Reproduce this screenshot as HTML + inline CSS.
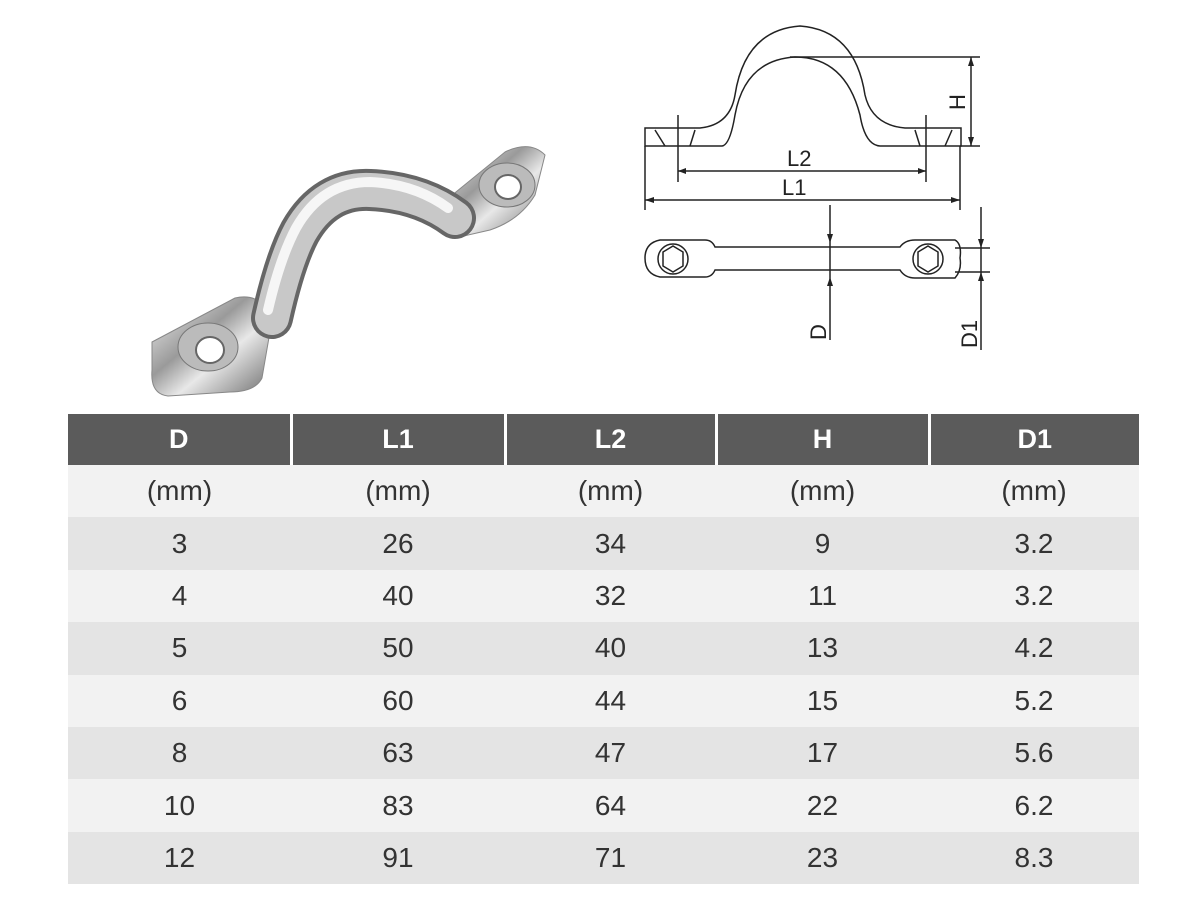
<!DOCTYPE html>
<html><head><style>
body{margin:0;width:1200px;height:900px;background:#fff;position:relative;overflow:hidden;font-family:"Liberation Sans",sans-serif}
table{position:absolute;left:68px;top:414px;width:1071px;border-collapse:collapse;table-layout:fixed}
td,th{text-align:center;padding:0;font-size:28px;color:#333;font-weight:normal}
th{background:#5b5b5b;color:#fff;height:51px;border-left:3px solid #fff;border-right:3px solid #fff;font-weight:bold;font-size:27px}
th:first-child{border-left:none}th:last-child{border-right:none}
td{height:52.4px}
tr:nth-child(even) td{background:#f2f2f2}
tr:nth-child(odd) td{background:#e4e4e4}
</style></head><body>
<svg width="1200" height="410" style="position:absolute;left:0;top:0">
<defs>
<linearGradient id="m" x1="0" y1="0" x2="1" y2="1">
<stop offset="0" stop-color="#f4f4f4"/><stop offset=".4" stop-color="#9a9a9a"/><stop offset=".6" stop-color="#e8e8e8"/><stop offset="1" stop-color="#6a6a6a"/></linearGradient>
<linearGradient id="b" x1="0" y1="0" x2="1" y2="0">
<stop offset="0" stop-color="#777"/><stop offset=".35" stop-color="#f6f6f6"/><stop offset=".7" stop-color="#999"/><stop offset="1" stop-color="#555"/></linearGradient>
</defs>
<path d="M152 342 L235 298 Q262 292 272 320 L262 378 Q255 392 230 392 L168 396 Q150 394 152 370 Z" fill="url(#m)" stroke="#888"/>
<ellipse cx="208" cy="347" rx="30" ry="24" fill="#bbb" stroke="#777"/>
<ellipse cx="210" cy="350" rx="14" ry="13" fill="#fff" stroke="#666" stroke-width="2"/>
<path d="M440 205 L505 152 Q530 140 545 155 L535 195 Q520 220 490 230 L455 238 Q440 228 440 205 Z" fill="url(#m)" stroke="#888"/>
<ellipse cx="507" cy="185" rx="28" ry="22" fill="#bbb" stroke="#777"/>
<ellipse cx="508" cy="187" rx="13" ry="12" fill="#fff" stroke="#666" stroke-width="2"/>
<path d="M272 318 Q285 260 300 232 Q325 188 370 190 Q420 192 455 218" fill="none" stroke="#666" stroke-width="42" stroke-linecap="round"/>
<path d="M272 318 Q285 260 300 232 Q325 188 370 190 Q420 192 455 218" fill="none" stroke="#c8c8c8" stroke-width="34" stroke-linecap="round"/>
<path d="M268 310 Q280 258 296 228 Q322 182 370 182 Q415 184 448 208" fill="none" stroke="#f6f6f6" stroke-width="10" stroke-linecap="round"/>
<g fill="none" stroke="#222" stroke-width="1.5">
<path d="M645 128 H700 Q730 125 735 95 Q745 30 800 26 Q855 30 865 95 Q872 125 905 128 H961 V146 H880 Q865 145 860 115 Q845 57 795 57 Q745 60 735 115 Q730 145 722 146 H645 Z"/>
<path d="M655 130 L665 146 M695 130 L690 146 M915 130 L920 146 M952 130 L945 146"/>
<path d="M678 115 V182 M926 115 V182 M645 146 V210 M960 146 V210 M678 171 H926 M645 200 H960 M790 57 H980 M960 146 H980 M971 57 V146"/>
<path d="M830 205 V340 M981 207 V350 M955 248 H990 M955 272 H990"/>
<path d="M660 240 Q645 243 645 258 Q645 274 660 277 H705 Q712 277 715 270 H900 Q905 278 915 278 H955 Q962 270 960 258 Q962 244 955 240 H915 Q905 240 900 247 H715 Q712 240 705 240 Z"/>
<circle cx="673" cy="259" r="15"/><path d="M663 252 L673 246 L683 252 V266 L673 272 L663 266 Z"/>
<circle cx="928" cy="259" r="15"/><path d="M918 252 L928 246 L938 252 V266 L928 272 L918 266 Z"/>
</g>
<g fill="#222">
<path d="M678 171 l8 -3 v6 z M926 171 l-8 -3 v6 z M645 200 l9 -3 v6 z M960 200 l-9 -3 v6 z M971 57 l-3 9 h6 z M971 146 l-3 -9 h6 z M830 243 l-3 -9 h6 z M830 277 l-3 9 h6 z M981 248 l-3 -9 h6 z M981 272 l-3 9 h6 z"/>
</g>
<g font-size="22" fill="#222" font-family="Liberation Sans,sans-serif">
<text x="787" y="166">L2</text><text x="782" y="195">L1</text>
<text transform="translate(965,110) rotate(-90)">H</text>
<text transform="translate(826,340) rotate(-90)">D</text>
<text transform="translate(977,348) rotate(-90)">D1</text>
</g>
</svg>
<table>
<colgroup><col style="width:223px"><col style="width:214px"><col style="width:211px"><col style="width:213px"><col style="width:210px"></colgroup>
<tr><th>D</th><th>L1</th><th>L2</th><th>H</th><th>D1</th></tr>
<tr><td>(mm)</td><td>(mm)</td><td>(mm)</td><td>(mm)</td><td>(mm)</td></tr>
<tr><td>3</td><td>26</td><td>34</td><td>9</td><td>3.2</td></tr>
<tr><td>4</td><td>40</td><td>32</td><td>11</td><td>3.2</td></tr>
<tr><td>5</td><td>50</td><td>40</td><td>13</td><td>4.2</td></tr>
<tr><td>6</td><td>60</td><td>44</td><td>15</td><td>5.2</td></tr>
<tr><td>8</td><td>63</td><td>47</td><td>17</td><td>5.6</td></tr>
<tr><td>10</td><td>83</td><td>64</td><td>22</td><td>6.2</td></tr>
<tr><td>12</td><td>91</td><td>71</td><td>23</td><td>8.3</td></tr>
</table>
</body></html>
